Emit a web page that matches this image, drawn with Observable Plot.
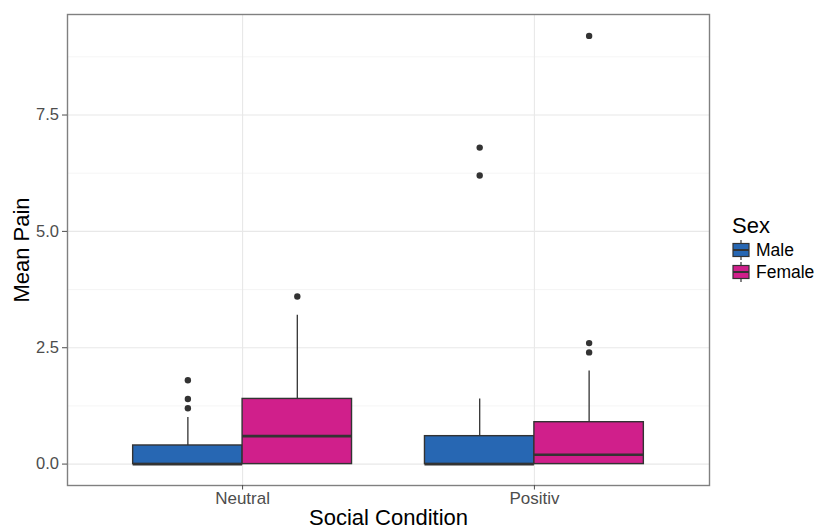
<!DOCTYPE html>
<html><head><meta charset="utf-8">
<script src="https://cdn.jsdelivr.net/npm/d3@7"></script>
<script src="https://cdn.jsdelivr.net/npm/@observablehq/plot@0.6"></script>
<style>
body{margin:0;background:#fff;font-family:"Liberation Sans",Arial,Helvetica,sans-serif;}
#wrap{position:relative;width:816px;height:529px;overflow:hidden;}
#legend{position:absolute;left:732px;top:213px;color:#000;}
#legend .title{font-size:22px;line-height:26px;margin-bottom:0px;}
#legend .row{display:flex;align-items:center;height:22px;font-size:17.5px;}
#legend .row svg{margin-right:6px;}
</style></head><body><div id="wrap"></div>
<script>
// ---- data ----
const conditions = ["Neutral", "Positiv"];
const sexes = ["Male", "Female"];
const sexColors = ["#2767B3", "#D01F8B"];
const boxCondition = ["Neutral", "Neutral", "Positiv", "Positiv"];
const boxSex = ["Male", "Female", "Male", "Female"];
const whiskerLow = [0, 0, 0, 0];
const q1 = [0, 0, 0, 0];
const median = [0, 0.6, 0, 0.2];
const q3 = [0.4, 1.4, 0.6, 0.9];
const whiskerHigh = [1.0, 3.2, 1.4, 2.0];
const outliers = [[1.2, 1.4, 1.8], [3.6], [6.2, 6.8], [2.4, 2.6, 9.2]];
const yTicks = [0, 2.5, 5, 7.5];
const yMinorTicks = [1.25, 3.75, 6.25, 8.75];
const xTitle = "Social Condition";
const yTitle = "Mean Pain";
const legendTitle = "Sex";

// ---- derived table ----
const dodge = 0.75;
function center(c, s) {
  return conditions.indexOf(c) + 1 + (sexes.indexOf(s) - 0.5) * dodge / 2;
}
const boxes = boxCondition.map((c, i) => {
  const m = center(c, boxSex[i]);
  return {condition: c, sex: boxSex[i], center: m, x1: m - dodge / 4, x2: m + dodge / 4,
    low: whiskerLow[i], q1: q1[i], median: median[i], q3: q3[i], high: whiskerHigh[i]};
});
const outlierRows = boxes.flatMap((b, i) => outliers[i].map(v => ({center: b.center, value: v, sex: b.sex})));
const allY = [...whiskerLow, ...whiskerHigh, ...outliers.flat()];
const yMin = d3.min(allY), yMax = d3.max(allY), pad = (yMax - yMin) * 0.05;

const dark = "#333333";
const plot = Plot.plot({
  width: 816, height: 529,
  marginLeft: 67, marginRight: 107, marginTop: 14, marginBottom: 44,
  style: {fontFamily: '"Liberation Sans", Arial, Helvetica, sans-serif', background: "white"},
  x: {type: "linear", domain: [1 - 0.6, conditions.length + 0.6]},
  y: {domain: [yMin - pad, yMax + pad]},
  color: {domain: sexes, range: sexColors},
  marks: [
    Plot.gridY(yMinorTicks, {stroke: "#f2f2f2", strokeOpacity: 1, strokeWidth: 0.8}),
    Plot.gridY(yTicks, {stroke: "#e8e8e8", strokeOpacity: 1, strokeWidth: 1.1}),
    Plot.gridX([1, 2], {stroke: "#e8e8e8", strokeOpacity: 1, strokeWidth: 1.1}),
    Plot.ruleX(boxes, {x: "center", y1: "q3", y2: "high", stroke: dark, strokeWidth: 1.3}),
    Plot.ruleX(boxes, {x: "center", y1: "low", y2: "q1", stroke: dark, strokeWidth: 1.3}),
    Plot.rect(boxes, {x1: "x1", x2: "x2", y1: "q1", y2: "q3", fill: "sex", stroke: dark, strokeWidth: 1.4}),
    Plot.ruleY(boxes, {y: "median", x1: "x1", x2: "x2", stroke: dark, strokeWidth: 2.6}),
    Plot.dot(outlierRows, {x: "center", y: "value", r: 3.2, fill: dark, stroke: "none"}),
    Plot.frame({stroke: "#808080", strokeWidth: 1.4}),
    Plot.axisY(yTicks, {tickFormat: d3.format(".1f"), tickSize: 5, tickPadding: 3.5, fontSize: 16.5, color: "#4d4d4d", label: null}),
    Plot.axisX([1, 2], {tickFormat: d => conditions[d - 1], tickSize: 4.5, tickPadding: 1.5, fontSize: 17, color: "#4d4d4d", label: null}),
    Plot.text([yTitle], {frameAnchor: "left", text: d => d, textAnchor: "middle", rotate: -90, dx: -46, fontSize: 22, fill: "black"}),
    Plot.text([xTitle], {frameAnchor: "bottom", text: d => d, textAnchor: "middle", lineAnchor: "top", dy: 24, fontSize: 22, fill: "black"})
  ]
});
const wrap = document.getElementById("wrap");
wrap.appendChild(plot);

// ---- legend ----
const legend = document.createElement("div");
legend.id = "legend";
legend.innerHTML = `<div class="title">${legendTitle}</div>` + sexes.map((s, i) => `
  <div class="row"><svg width="18" height="20" viewBox="0 0 18 20">
    <line x1="9" x2="9" y1="0" y2="20" stroke="${dark}" stroke-width="1.2"/>
    <rect x="1" y="3.5" width="16" height="13" fill="${sexColors[i]}" stroke="${dark}" stroke-width="1.2"/>
    <line x1="1" x2="17" y1="10" y2="10" stroke="${dark}" stroke-width="2"/>
  </svg><span>${s}</span></div>`).join("");
wrap.appendChild(legend);
</script>
</body></html>
